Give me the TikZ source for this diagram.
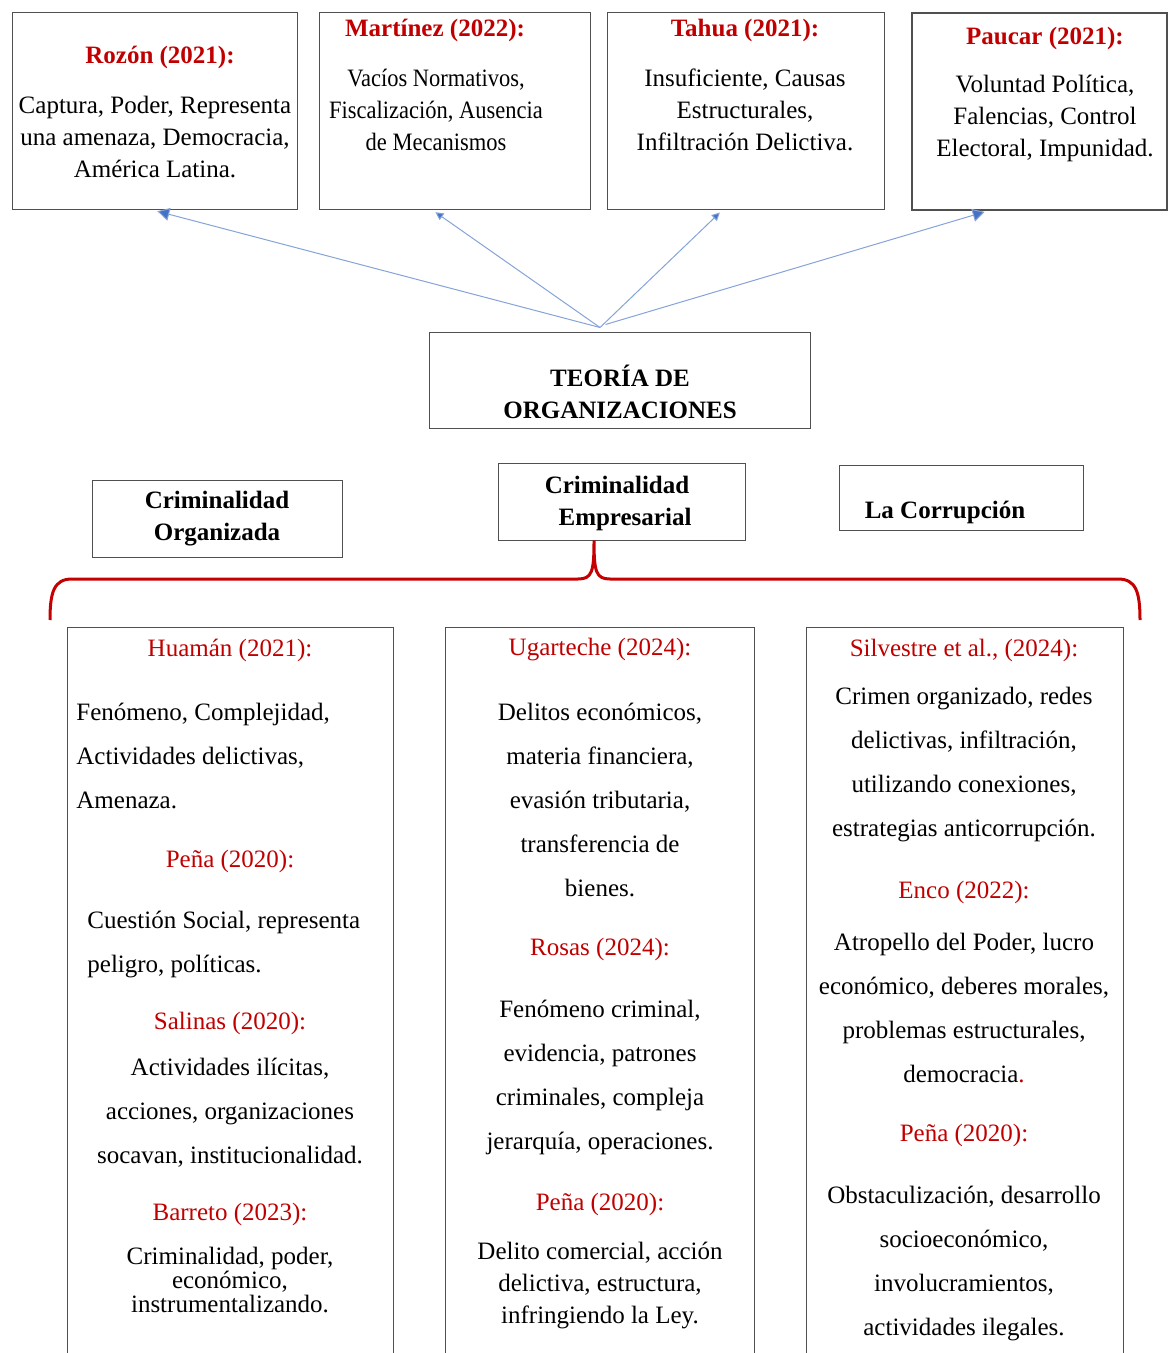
\documentclass[tikz,border=0pt]{standalone}
\usepackage{fontspec}
\setmainfont{Liberation Serif}
\usetikzlibrary{arrows.meta}
\definecolor{rojo}{RGB}{192,0,0}
\definecolor{azul}{RGB}{68,114,196}
\definecolor{borde}{RGB}{80,80,80}
\tikzset{
  caja/.style={draw=borde, line width=0.5pt, inner sep=0pt},
  autor/.style={text=rojo, inner sep=0pt, font=\fontsize{12.5}{16}\selectfont\bfseries},
  autorb/.style={text=rojo, inner sep=0pt, font=\fontsize{12.5}{16}\selectfont},
  texto/.style={align=center, inner sep=0pt, font=\fontsize{12.5}{16}\selectfont},
  doble/.style={align=center, inner sep=0pt, font=\fontsize{12.5}{22}\selectfont},
  titulo/.style={align=center, inner sep=0pt, font=\fontsize{12.5}{16}\selectfont\bfseries},
  flecha/.style={draw=azul!65, line width=0.5pt, -{Triangle[length=4pt,width=4pt,fill=azul]}, shorten >=1.5pt},
  flechag/.style={flecha, -{Triangle[length=6pt,width=6.5pt,fill=azul]}},
}
\begin{document}
\begin{tikzpicture}[x=0.5pt,y=-0.5pt]
\useasboundingbox (0,0) rectangle (1167,1353);

\node[caja, minimum width=142.5pt, minimum height=98.5pt] (rozon) at (154.5,111.5) {};
\node[caja, minimum width=135.5pt, minimum height=98.5pt] (martinez) at (454.5,111.5) {};
\node[caja, minimum width=138.5pt, minimum height=98.5pt] (tahua) at (745.5,111.5) {};
\node[caja, line width=1pt, minimum width=127.5pt, minimum height=98.5pt] (paucar) at (1039.5,111.5) {};

\node[autor] (rozonA) at (160,57) {Rozón (2021):};
\node[texto] (rozonB) at (155,137) {Captura, Poder, Representa\\una amenaza, Democracia,\\América Latina.};
\node[autor] (martinezA) at (435,30) {Martínez (2022):};
\node[texto, font=\fontsize{12.5}{16}\selectfont\addfontfeature{FakeStretch=0.9}] (martinezB) at (436,110) {Vacíos Normativos,\\Fiscalización, Ausencia\\de Mecanismos};
\node[autor] (tahuaA) at (745,30) {Tahua (2021):};
\node[texto] (tahuaB) at (745,110) {Insuficiente, Causas\\Estructurales,\\Infiltración Delictiva.};
\node[autor] (paucarA) at (1045,38) {Paucar (2021):};
\node[texto] (paucarB) at (1045,118) {Voluntad Política,\\Falencias, Control\\Electoral, Impunidad.};

\node[caja, minimum width=190.5pt, minimum height=47.5pt] (teoria) at (619.5,380.5) {};
\node[titulo] (teoriaT) at (620,392) {TEORÍA DE\\ORGANIZACIONES};
\coordinate (hub) at ([xshift=-9.75pt,yshift=2.5pt]teoria.north);
\coordinate (hubb) at ([xshift=-7pt,yshift=4pt]teoria.north);

\draw[flechag] (hub) -- (rozon.south);
\draw[flecha] (hub) -- ([xshift=-10.75pt]martinez.south);
\draw[flecha] (hub) -- ([xshift=-11.75pt]tahua.south);
\draw[flechag] (hubb) -- ([xshift=-26pt]paucar.south);

\node[caja, minimum width=125pt, minimum height=38.5pt] (organizada) at (217,518.5) {};
\node[titulo] (organizadaT) at (217,519) {Criminalidad\\Organizada};
\node[caja, minimum width=123.5pt, minimum height=38.5pt] (empresarial) at (621.5,501.5) {};
\node[titulo] (empresarialT) at (617,503) {Criminalidad\\\hspace*{8pt}Empresarial};
\node[caja, minimum width=122pt, minimum height=32.5pt] (corrupcion) at (961,497.5) {};
\node[titulo] (corrupcionT) at (945,512) {La Corrupción};

\coordinate (punta) at ([xshift=-13.75pt]empresarial.south);
\coordinate (izq) at (50,620);
\coordinate (der) at (1140,620);
\draw[rojo!90!red, line width=1.5pt] (izq) .. controls (50,592) and (54,579) .. (72,579)
  -- (578,579) .. controls (592,579) and (594,572) .. (punta)
  .. controls (594,572) and (596,579) .. (610,579)
  -- (1118,579) .. controls (1136,579) and (1140,592) .. (der);

\node[caja, minimum width=163pt, minimum height=386.5pt] (colA) at (230,1013.5) {};
\node[caja, minimum width=154.5pt, minimum height=386.5pt] (colB) at (599.5,1013.5) {};
\node[caja, minimum width=158.5pt, minimum height=386.5pt] (colC) at (964.5,1013.5) {};

\node[autorb] (huaman) at (230,650) {Huamán (2021):};
\node[doble, align=left, anchor=west] (huamanB) at (76,756) {Fenómeno, Complejidad,\\Actividades delictivas,\\Amenaza.};
\node[autorb] (penaA) at (230,861) {Peña (2020):};
\node[doble, align=left, anchor=west] (penaAB) at (87,944) {Cuestión Social, representa\\peligro, políticas.};
\node[autorb] (salinas) at (230,1023) {Salinas (2020):};
\node[doble] (salinasB) at (230,1113) {Actividades ilícitas,\\acciones, organizaciones\\socavan, institucionalidad.};
\node[autorb] (barreto) at (230,1214) {Barreto (2023):};
\node[texto, font=\fontsize{12.5}{12}\selectfont] (barretoB) at (230,1280) {Criminalidad, poder,\\económico,\\instrumentalizando.};

\node[autorb] (ugarteche) at (600,650) {Ugarteche (2024):};
\node[doble] (ugartecheB) at (600,800) {Delitos económicos,\\materia financiera,\\evasión tributaria,\\transferencia de\\bienes.};
\node[autorb] (rosas) at (600,949) {Rosas (2024):};
\node[doble] (rosasB) at (600,1077) {Fenómeno criminal,\\evidencia, patrones\\criminales, compleja\\jerarquía, operaciones.};
\node[autorb] (penaB) at (600,1204) {Peña (2020):};
\node[texto] (penaBB) at (600,1285) {Delito comercial, acción\\delictiva, estructura,\\infringiendo la Ley.};

\node[autorb] (silvestre) at (964,650) {Silvestre et al., (2024):};
\node[doble] (silvestreB) at (964,765) {Crimen organizado, redes\\delictivas, infiltración,\\utilizando conexiones,\\estrategias anticorrupción.};
\node[autorb] (enco) at (964,892) {Enco (2022):};
\node[doble] (encoB) at (964,1008) {Atropello del Poder, lucro\\económico, deberes morales,\\problemas estructurales,\\democracia{\color{rojo}.}};
\node[autorb] (penaC) at (964,1135) {Peña (2020):};
\node[doble] (penaCB) at (964,1263) {Obstaculización, desarrollo\\socioeconómico,\\involucramientos,\\actividades ilegales.};
\end{tikzpicture}
\end{document}
